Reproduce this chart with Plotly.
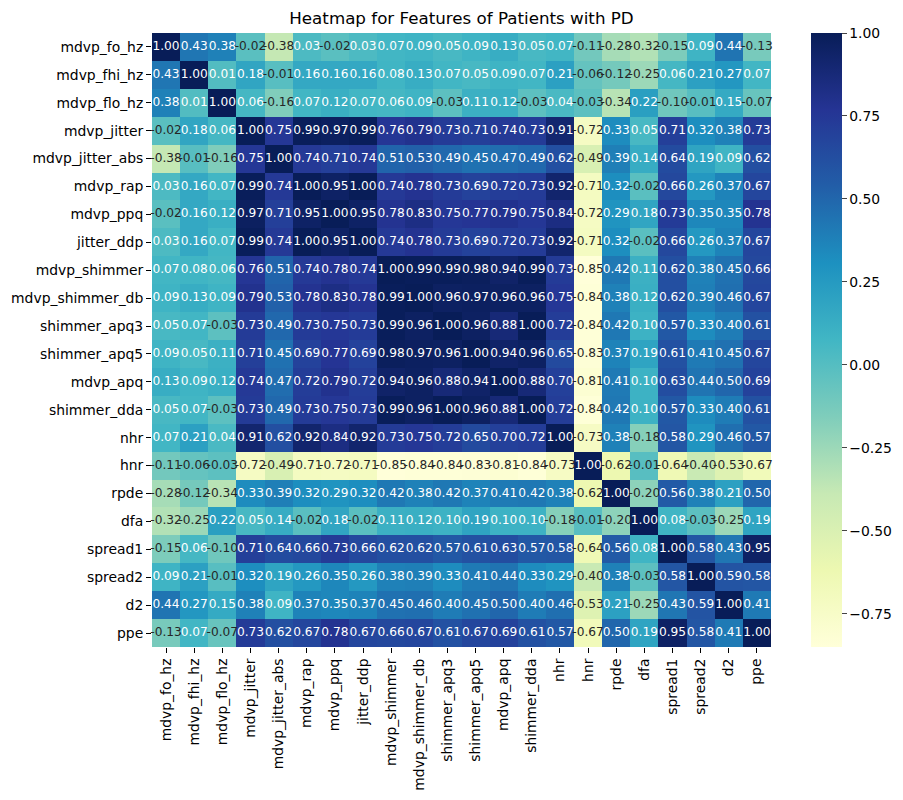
import numpy as np
import plotly.graph_objects as go


FEATURES = [
    "mdvp_fo_hz", "mdvp_fhi_hz", "mdvp_flo_hz", "mdvp_jitter", "mdvp_jitter_abs",
    "mdvp_rap", "mdvp_ppq", "jitter_ddp", "mdvp_shimmer", "mdvp_shimmer_db",
    "shimmer_apq3", "shimmer_apq5", "mdvp_apq", "shimmer_dda", "nhr", "hnr",
    "rpde", "dfa", "spread1", "spread2", "d2", "ppe",
]

# upper triangle of the correlation matrix, each row starts at the diagonal
UPPER = [
    [1.00, 0.43, 0.38, -0.02, -0.38, 0.03, -0.02, 0.03, 0.07, 0.09, 0.05, 0.09, 0.13, 0.05, 0.07, -0.11, -0.28, -0.32, -0.15, 0.09, 0.44, -0.13],
    [1.00, 0.01, 0.18, -0.01, 0.16, 0.16, 0.16, 0.08, 0.13, 0.07, 0.05, 0.09, 0.07, 0.21, -0.06, -0.12, -0.25, 0.06, 0.21, 0.27, 0.07],
    [1.00, 0.06, -0.16, 0.07, 0.12, 0.07, 0.06, 0.09, -0.03, 0.11, 0.12, -0.03, 0.04, -0.03, -0.34, 0.22, -0.10, -0.01, 0.15, -0.07],
    [1.00, 0.75, 0.99, 0.97, 0.99, 0.76, 0.79, 0.73, 0.71, 0.74, 0.73, 0.91, -0.72, 0.33, 0.05, 0.71, 0.32, 0.38, 0.73],
    [1.00, 0.74, 0.71, 0.74, 0.51, 0.53, 0.49, 0.45, 0.47, 0.49, 0.62, -0.49, 0.39, 0.14, 0.64, 0.19, 0.09, 0.62],
    [1.00, 0.95, 1.00, 0.74, 0.78, 0.73, 0.69, 0.72, 0.73, 0.92, -0.71, 0.32, -0.02, 0.66, 0.26, 0.37, 0.67],
    [1.00, 0.95, 0.78, 0.83, 0.75, 0.77, 0.79, 0.75, 0.84, -0.72, 0.29, 0.18, 0.73, 0.35, 0.35, 0.78],
    [1.00, 0.74, 0.78, 0.73, 0.69, 0.72, 0.73, 0.92, -0.71, 0.32, -0.02, 0.66, 0.26, 0.37, 0.67],
    [1.00, 0.99, 0.99, 0.98, 0.94, 0.99, 0.73, -0.85, 0.42, 0.11, 0.62, 0.38, 0.45, 0.66],
    [1.00, 0.96, 0.97, 0.96, 0.96, 0.75, -0.84, 0.38, 0.12, 0.62, 0.39, 0.46, 0.67],
    [1.00, 0.96, 0.88, 1.00, 0.72, -0.84, 0.42, 0.10, 0.57, 0.33, 0.40, 0.61],
    [1.00, 0.94, 0.96, 0.65, -0.83, 0.37, 0.19, 0.61, 0.41, 0.45, 0.67],
    [1.00, 0.88, 0.70, -0.81, 0.41, 0.10, 0.63, 0.44, 0.50, 0.69],
    [1.00, 0.72, -0.84, 0.42, 0.10, 0.57, 0.33, 0.40, 0.61],
    [1.00, -0.73, 0.38, -0.18, 0.58, 0.29, 0.46, 0.57],
    [1.00, -0.62, -0.01, -0.64, -0.40, -0.53, -0.67],
    [1.00, -0.20, 0.56, 0.38, 0.21, 0.50],
    [1.00, 0.08, -0.03, -0.25, 0.19],
    [1.00, 0.58, 0.43, 0.95],
    [1.00, 0.59, 0.58],
    [1.00, 0.41],
    [1.00],
]

COLORBAR_TICKS = [-0.75, -0.50, -0.25, 0.00, 0.25, 0.50, 0.75, 1.00]

YLGNBU = ["#ffffd9", "#edf8b1", "#c7e9b4", "#7fcdbb", "#41b6c4",
          "#1d91c0", "#225ea8", "#253494", "#081d58"]


n = len(FEATURES)
corr = np.zeros((n, n))
for i, row in enumerate(UPPER):
    for k, v in enumerate(row):
        corr[i, i + k] = v
        corr[i + k, i] = v

zmin = corr.min()
zmax = corr.max()

stops = np.linspace(0, 1, len(YLGNBU))
rgb = np.array([[int(c[1:3], 16), int(c[3:5], 16), int(c[5:7], 16)] for c in YLGNBU]) / 255.0


def luminance(v):
    t = (v - zmin) / (zmax - zmin)
    c = np.array([np.interp(t, stops, rgb[:, k]) for k in range(3)])
    c = np.where(c <= 0.03928, c / 12.92, ((c + 0.055) / 1.055) ** 2.4)
    return 0.2126 * c[0] + 0.7152 * c[1] + 0.0722 * c[2]


xs, ys, texts, colors = [], [], [], []
for i in range(n):
    for j in range(n):
        xs.append(FEATURES[j])
        ys.append(FEATURES[i])
        texts.append("{:.2f}".format(corr[i, j]))
        colors.append("rgb(38,38,38)" if luminance(corr[i, j]) > 0.422 else "white")

font = "DejaVu Sans, sans-serif"

fig = go.Figure(
    data=[
        go.Heatmap(
            z=corr,
            x=FEATURES,
            y=FEATURES,
            zmin=zmin,
            zmax=zmax,
            colorscale=[[s, c] for s, c in zip(stops, YLGNBU)],
            hoverinfo="skip",
            colorbar=dict(
                x=1.063,
                xanchor="left",
                y=0.5,
                yanchor="middle",
                len=1,
                thickness=31,
                xpad=0,
                ypad=0,
                outlinewidth=0,
                ticks="outside",
                ticklen=5,
                tickvals=COLORBAR_TICKS,
                tickformat=".2f",
                tickfont=dict(family=font, size=13.9, color="black"),
            )),
        go.Scatter(
            x=xs,
            y=ys,
            mode="text",
            text=texts,
            textfont=dict(family=font, size=12.2, color=colors),
            cliponaxis=False,
            hoverinfo="skip",
            showlegend=False),
    ])

fig.update_layout(
    width=903,
    height=800,
    margin=dict(l=152, r=131, t=33, b=153),
    paper_bgcolor="white",
    plot_bgcolor="white",
    font=dict(family=font, size=13.9, color="black"),
    title=dict(
        text="Heatmap for Features of Patients with PD",
        x=0.5,
        xref="paper",
        xanchor="center",
        y=1 - 18 / 800,
        yref="container",
        yanchor="middle",
        font=dict(family=font, size=16.7, color="black")),
    xaxis=dict(
        type="category",
        range=[-0.5, n - 0.5],
        tickangle=-90,
        ticks="outside",
        ticklen=5,
        tickcolor="black",
        automargin=False,
        showgrid=False,
        zeroline=False,
        showline=False),
    yaxis=dict(
        type="category",
        range=[n - 0.5, -0.5],
        ticks="outside",
        ticklen=5,
        tickcolor="black",
        automargin=False,
        showgrid=False,
        zeroline=False,
        showline=False),
)

# drop the default page margin so the 903x800 figure fills the window
fig.write_html(
    "out.html",
    config={"displayModeBar": False},
    post_script="document.body.style.margin='0';document.body.style.overflow='hidden';")
